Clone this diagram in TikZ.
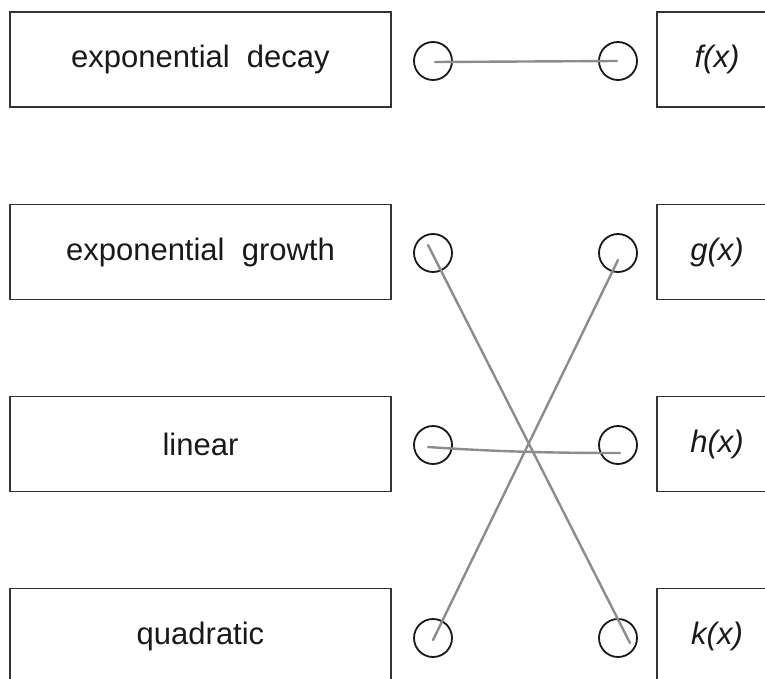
\documentclass[tikz,border=0pt]{standalone}
\usepackage{fontspec}
\setmainfont{Liberation Sans}
\begin{document}
\begin{tikzpicture}[x=1pt,y=-1pt,
  lbox/.style={draw=black!80,line width=1.8pt,minimum width=381pt,minimum height=95pt,inner sep=0pt,text=black!90,font=\fontsize{31}{36}\selectfont},
  rbox/.style={draw=black!80,line width=1.8pt,minimum width=120pt,minimum height=95pt,inner sep=0pt,text=black!90,font=\fontsize{31}{36}\selectfont\itshape},
  dot/.style={circle,draw=black!90,line width=1.8pt,minimum size=38pt,inner sep=0pt},
  link/.style={draw=black!45,line width=2.4pt,line cap=round}]
\useasboundingbox (0,0) rectangle (765,679);
\clip (0,0) rectangle (765,679);
\node[lbox] (b1) at (200.5,59.5) {exponential\ \ decay};
\node[lbox] (b2) at (200.5,252) {exponential\ \ growth};
\node[lbox] (b3) at (200.5,444) {linear};
\node[lbox] (b4) at (200.5,636) {quadratic};
\node[rbox] (r1) at (717,59.5) {f(x)};
\node[rbox] (r2) at (717,252) {g(x)};
\node[rbox] (r3) at (717,444) {h(x)};
\node[rbox] (r4) at (717,636) {k(x)};
\node[dot] (cl1) at (433,61) {};
\node[dot] (cl2) at (433,253) {};
\node[dot] (cl3) at (433,445) {};
\node[dot] (cl4) at (433,638) {};
\node[dot] (cr1) at (618,61) {};
\node[dot] (cr2) at (618,253) {};
\node[dot] (cr3) at (618,445) {};
\node[dot] (cr4) at (618,638) {};
\draw[link] ([shift={(2,1)}]cl1.center) -- ([shift={(-1,0)}]cr1.center);
\draw[link] ([shift={(-5,-8)}]cl2.center) -- ([shift={(12,5)}]cr4.center);
\draw[link] ([shift={(0,2)}]cl4.center) -- ([shift={(0,7)}]cr2.center);
\draw[link] ([shift={(-5,2)}]cl3.center) .. controls (500,452) and (560,453) .. ([shift={(2,8)}]cr3.center);
\end{tikzpicture}
\end{document}
